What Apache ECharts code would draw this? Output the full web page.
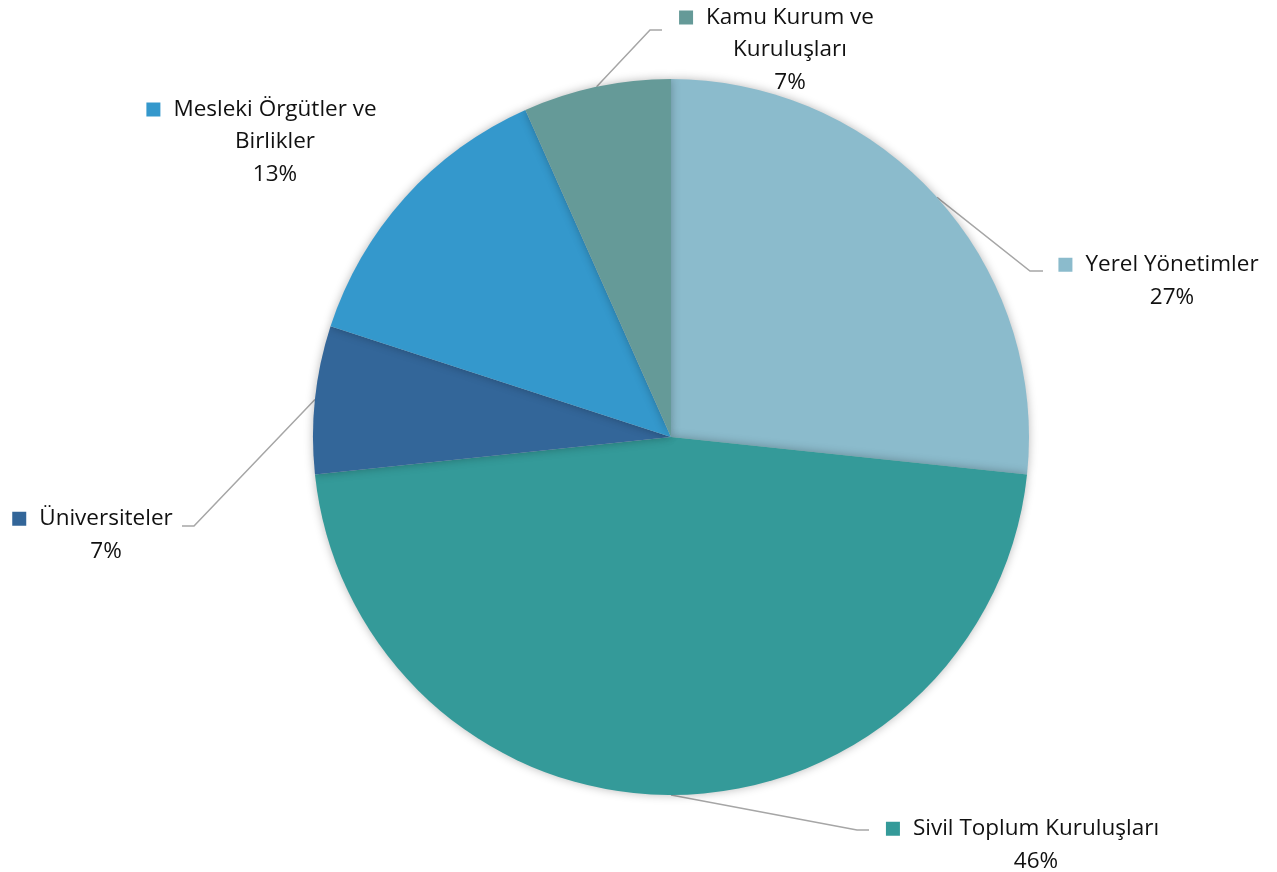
<!DOCTYPE html>
<html>
<head>
<meta charset="utf-8">
<script src="https://cdn.jsdelivr.net/npm/echarts@6/dist/echarts.min.js"></script>
<style>
html,body{margin:0;padding:0;background:#fff;}
#chart{width:1277px;height:872px;}
</style>
</head>
<body>
<div id="chart"></div>
<script>
const categories = ['Yerel Yönetimler', 'Sivil Toplum Kuruluşları', 'Üniversiteler', 'Mesleki Örgütler ve Birlikler', 'Kamu Kurum ve Kuruluşları'];
const labelLines = [['Yerel Yönetimler'], ['Sivil Toplum Kuruluşları'], ['Üniversiteler'], ['Mesleki Örgütler ve', 'Birlikler'], ['Kamu Kurum ve', 'Kuruluşları']];
const values = [4, 7, 1, 2, 1];
const percentLabels = ['27%', '46%', '7%', '13%', '7%'];
const colors = ['#8BBBCC', '#349A99', '#336699', '#3498CC', '#659A98'];

// label layout (text centre) and leader-line elbow/end positions
const labelAnchors = [[1172, 281], [1036, 845], [106, 535], [275, 142], [790, 50]];
const leaderElbows = [[1030, 271], [857, 830], [194, 526], null, [650, 30]];
const leaderEnds = [[1043, 271], [869, 830], [182, 526], null, [662, 30]];

const SQ = 14, GAP = 13;
const rich = {
  n: { fontSize: 22.5, lineHeight: 32.5, color: '#111111', fontFamily: 'Open Sans' },
  gap: { width: GAP },
  tail: { width: SQ + GAP }
};
colors.forEach((c, i) => {
  rich['sq' + i] = { width: SQ, height: SQ, backgroundColor: c };
});

const chart = echarts.init(document.getElementById('chart'));
chart.setOption({
  animation: false,
  series: [{
    type: 'pie',
    center: [671, 437],
    radius: 358,
    startAngle: 90,
    clockwise: true,
    data: categories.map((name, i) => ({ name, value: values[i], itemStyle: { color: colors[i] } })),
    itemStyle: { borderWidth: 0, shadowBlur: 10, shadowColor: 'rgba(0,0,0,0.28)' },
    label: {
      show: true,
      position: 'outside',
      align: 'center',
      rich,
      formatter: p => {
        const ls = labelLines[p.dataIndex];
        let s = '{sq' + p.dataIndex + '|}{gap|}{n|' + ls[0] + '}{tail|}';
        for (let k = 1; k < ls.length; k++) s += '\n{n|' + ls[k] + '}';
        s += '\n{n|' + percentLabels[p.dataIndex] + '}';
        return s;
      }
    },
    labelLine: { show: true, lineStyle: { color: '#a6a6a6', width: 1.5 }, length: 20, length2: 20 },
    labelLayout: p => {
      const i = p.dataIndex;
      const out = {
        x: labelAnchors[i][0],
        y: labelAnchors[i][1],
        align: 'center',
        verticalAlign: 'middle'
      };
      if (leaderEnds[i] && p.labelLinePoints) {
        out.labelLinePoints = [p.labelLinePoints[0], leaderElbows[i], leaderEnds[i]];
      } else {
        out.labelLinePoints = [p.labelLinePoints[0], p.labelLinePoints[0], p.labelLinePoints[0]];
      }
      return out;
    }
  }]
});
</script>
</body>
</html>
